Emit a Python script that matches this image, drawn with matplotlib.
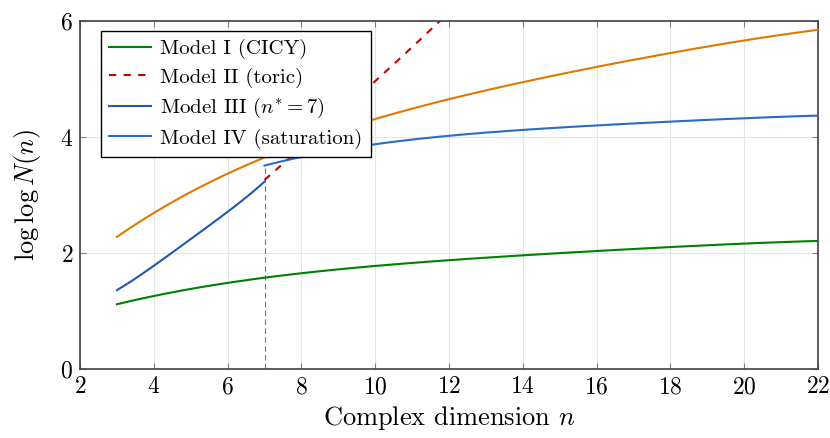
import numpy as np
import matplotlib
matplotlib.use("Agg")
import matplotlib.pyplot as plt

plt.rcParams['font.family'] = 'serif'
plt.rcParams['font.serif'] = ['cmr10']
plt.rcParams['mathtext.fontset'] = 'cm'
plt.rcParams['axes.formatter.use_mathtext'] = True

# Data
n_I = [3, 4, 5, 6, 7, 8, 10, 12, 14, 16, 18, 20, 22]
y_I = [1.115, 1.26, 1.38, 1.49, 1.575, 1.65, 1.77, 1.88, 1.96, 2.04, 2.10, 2.16, 2.21]

n_II = [7, 8, 9, 10, 11, 12, 13]
y_II = [3.26, 3.82, 4.39, 4.96, 5.55, 6.15, 6.77]

n_orange = [3, 4, 5, 6, 7, 8, 9, 10, 12, 14, 16, 18, 20, 22]
y_orange = [2.27, 2.71, 3.05, 3.34, 3.65, 3.92, 4.12, 4.29, 4.65, 4.95, 5.21, 5.45, 5.66, 5.85]

n_III = [3, 4, 5, 6, 7]
y_III = [1.36, 1.78, 2.24, 2.71, 3.23]

n_IV = [7, 8, 9, 10, 12, 14, 16, 18, 20, 22]
y_IV = [3.51, 3.65, 3.78, 3.88, 4.02, 4.12, 4.20, 4.27, 4.32, 4.37]

n_star = 7
xticks = [2, 4, 6, 8, 10, 12, 14, 16, 18, 20, 22]
yticks = [0, 2, 4, 6]

def smooth(x, y, num=200):
    x = np.asarray(x, float); y = np.asarray(y, float)
    xs = np.linspace(x[0], x[-1], num)
    deg = min(4, len(x) - 1)
    c = np.polyfit(x, y, deg)
    return xs, np.polyval(c, xs)

fig = plt.figure(figsize=(8.3, 4.38), dpi=100)
ax = fig.add_axes([0.0964, 0.1575, 0.8891, 0.7945])

c_green = '#008000'
c_red = '#cc0000'
c_orange = '#e07800'
c_blue3 = '#1f58b5'
c_blue4 = '#2a6bc8'

x, y = smooth(n_I, y_I)
ax.plot(x, y, color=c_green, lw=1.5, label='Model I (CICY)', zorder=3)
x, y = smooth(n_II, y_II)
ax.plot(x, y, color=c_red, lw=1.5, ls=(0, (3.5, 3.5)), label='Model II (toric)', zorder=3)
x, y = smooth(n_III, y_III)
ax.plot(x, y, color=c_blue3, lw=1.5, label=r'Model III ($n^{*}=7$)', zorder=3)
x, y = smooth(n_IV, y_IV)
ax.plot(x, y, color=c_blue4, lw=1.5, label='Model IV (saturation)', zorder=3)
x, y = smooth(n_orange, y_orange)
ax.plot(x, y, color=c_orange, lw=1.5, zorder=3)

ax.plot([n_star, n_star], [0, y_IV[0]], color='#777777', lw=0.8, ls=(0, (5, 3)), zorder=2)

ax.set_xlim(2, 22)
ax.set_ylim(0, 6)
ax.set_xticks(xticks)
ax.set_yticks(yticks)
ax.grid(True, color='#e4e4e4', lw=0.8, zorder=0)
ax.set_axisbelow(True)
ax.tick_params(direction='in', length=4, width=0.8, color='#808080',
               top=True, right=True, labelsize=17, pad=5)
for s in ax.spines.values():
    s.set_color('#404040')
    s.set_linewidth(1.2)

ax.set_xlabel('Complex dimension $n$', fontsize=19, labelpad=4)
ax.set_ylabel(r'$\log\log N(n)$', fontsize=19, labelpad=12)

leg = ax.legend(loc='upper left', bbox_to_anchor=(0.0285, 0.972), fontsize=15,
                frameon=True, fancybox=False, framealpha=1, edgecolor='black',
                borderpad=0.4, labelspacing=0.4, handlelength=2.0, handletextpad=0.45,
                borderaxespad=0)
leg.get_frame().set_linewidth(1.0)
leg.set_zorder(5)

fig.savefig('out.png', dpi=100)
